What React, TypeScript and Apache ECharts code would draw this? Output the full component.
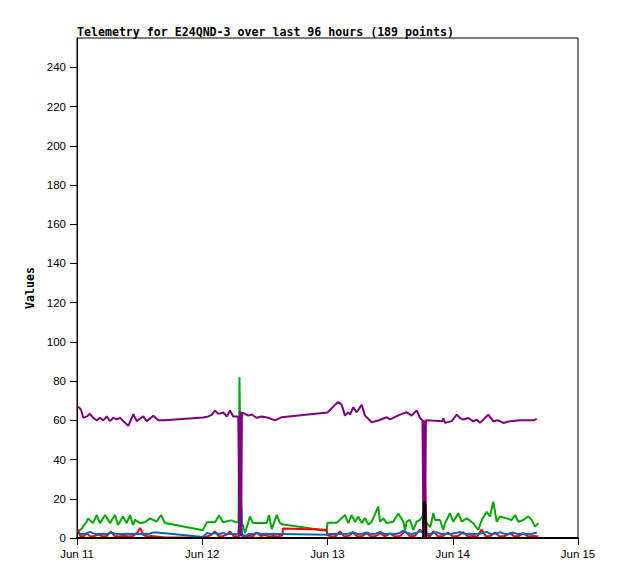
import { useEffect, useRef } from 'react';
import * as echarts from 'echarts';

const TITLE = 'Telemetry for E24QND-3 over last 96 hours (189 points)';
const Y_NAME = 'Values';
// x positions are hours since Jun 11 00:00
const xTickLabels = ['Jun 11', 'Jun 12', 'Jun 13', 'Jun 14', 'Jun 15'];
const yTickValues = [0, 20, 40, 60, 80, 100, 120, 140, 160, 180, 200, 220, 240];

const greenHours = [
  0.2, 0.96, 1.86, 2.11, 3.07, 3.77, 4.41, 5.37, 6.32, 7.28, 7.86, 8.81, 9.52, 10.15, 10.73, 11.11, 12.07, 13.03, 13.99, 15.27, 16.1, 16.86,
  24.14, 24.85, 26.44, 27.21, 27.98, 28.74, 29.61, 30.47, 30.95, 31.14, 31.33, 31.6, 32.19, 33.15, 33.73, 36.35, 36.79, 37.31, 38.27, 38.9, 39.28,
  47.85, 48.0, 49.76, 51.35, 51.99, 52.64, 53.27, 53.9, 54.55, 55.18, 55.82, 56.47, 57.73, 58.06, 58.69, 59.35, 60.61, 61.57, 62.53, 62.85, 63.18,
  63.81, 64.44, 65.09, 65.73, 66.4, 66.9, 67.7, 68.27, 68.6, 69.56, 70.19, 70.52, 71.47, 72.11, 73.06, 73.71, 74.67, 75.94, 76.9, 77.55, 78.51,
  79.14, 79.77, 80.42, 81.06, 82.34, 83.3, 83.93, 84.56, 85.52, 86.48, 87.13, 87.76, 88.39,
];
const greenValues = [
  3.2, 5, 8.3, 10, 7.6, 11.7, 7.6, 11.7, 7.6, 11.7, 6.6, 11, 7.6, 11.7, 6.6, 9.2, 7.6, 8, 10, 8.4, 11.7, 7.6,
  4, 8, 8, 11.5, 8, 8.5, 9, 8, 8, 82, 30, 8, 2.5, 11, 7.6, 7.6, 11.7, 4.5, 11.7, 7.6, 7,
  3.7, 7.8, 7.8, 11.7, 7.6, 11.7, 8.2, 10.9, 7.6, 10.2, 6.8, 8.3, 16, 8.3, 10, 7.6, 8.3, 12.5, 8.3, 4.1, 8.3,
  9.2, 4.1, 8.3, 9.2, 12, 8, 5.5, 12.6, 9.2, 9.2, 4.1, 7.5, 12.6, 8.3, 12.6, 8.3, 10, 7.5, 4.1, 9.2, 13.4,
  11, 18.5, 8.3, 11, 10, 9.2, 11.7, 8.3, 9.2, 11, 9.2, 5.8, 7.6,
];

const redHours = [
  0.2, 0.6, 1.3, 1.9, 2.5, 3.3, 4.1, 4.8, 5.7, 6.5, 7.2, 8.1, 9.0, 9.8, 10.7, 11.5, 12.1, 12.7, 13.5, 14.3, 15.1, 16.1, 16.9,
  24.1, 24.9, 25.7, 26.4, 27.2, 28.0, 28.7, 29.3, 30.0, 30.9, 31.3, 32.2, 33.0, 33.7, 34.4, 35.2, 36.0, 36.8, 37.6, 38.4, 39.0, 39.3, 39.5,
  47.8, 48.0, 48.8, 49.6, 50.4, 51.2, 52.0, 52.9, 53.7, 54.6, 55.5, 56.3, 57.2, 58.1, 59.0, 60.0, 60.9, 61.9, 62.9, 63.8, 64.8, 65.7, 66.3,
  66.7, 67.0, 67.6, 68.3, 69.2, 70.1, 71.1, 72.0, 73.0, 74.0, 74.9, 75.8, 76.7, 77.5, 78.4, 79.2, 80.1, 81.0, 82.0, 83.0, 83.8, 84.7, 85.5,
  86.4, 87.3, 88.4,
];
const redValues = [
  4.3, 1, 0.8, 2.5, 0.8, 1, 1.8, 0.8, 1, 3.4, 1, 0.8, 1.2, 0.8, 1, 2.5, 5.1, 1.5, 0.8, 1, 0.8, 0.5, 0.3,
  0.2, 0.8, 1.5, 3.4, 0.8, 1, 1.8, 3.4, 1, 0.8, 1.5, 0.8, 1.2, 0.8, 2.8, 1, 1.5, 0.8, 1, 0.8, 1.2, 1.2, 4.8,
  4.2, 1.5, 0.8, 1, 3.4, 0.8, 1, 2.8, 0.8, 1, 2.5, 0.8, 1, 2.5, 0.8, 2.2, 0.8, 1, 3.4, 0.8, 1.2, 4.3, 2.5,
  28, 1.5, 0.8, 3.4, 0.8, 1, 2.8, 0.8, 1, 3, 0.8, 1, 0.8, 4.3, 0.8, 1, 2.8, 0.8, 1, 2.5, 0.8, 1, 2.5,
  0.8, 1, 0.8,
];

const blueHours = [
  0.2, 0.9, 1.7, 2.5, 3.3, 4.1, 4.9, 5.7, 6.5, 7.3, 8.1, 8.9, 9.7, 10.5, 11.3, 12.1, 12.9, 13.7, 14.5, 15.3, 16.1, 16.9,
  24.1, 24.9, 25.7, 26.4, 27.2, 28.0, 28.7, 29.5, 30.3, 30.9, 31.4, 31.6, 32.2, 33.0, 33.7, 34.5, 35.3, 36.1, 36.9, 37.7, 38.5, 39.3,
  47.9, 48.0, 49.0, 50.0, 51.0, 52.0, 52.9, 53.8, 54.6, 55.5, 56.4, 57.2, 58.1, 59.0, 60.0, 61.0, 61.8, 62.5, 63.3, 64.2, 65.0, 65.7,
  66.4, 67.2, 68.0, 68.9, 69.8, 70.7, 71.6, 72.5, 73.4, 74.3, 75.2, 76.1, 77.0, 77.8, 78.5, 79.3, 80.2, 81.1, 82.0, 82.8, 83.5, 84.4,
  85.3, 86.2, 87.2, 88.1,
];
const blueValues = [
  2.5, 2, 2.2, 3.1, 2.2, 2, 2.2, 2, 2.8, 2.2, 2, 2, 2.2, 2, 2.2, 2, 2.2, 2, 2.8, 2.8, 2.6, 2.4,
  0.5, 2.5, 2, 2.5, 2, 2.5, 2, 2.2, 2, 2.2, 18.5, 2, 1, 2.2, 2, 2.5, 2, 2.2, 2, 2.2, 2, 2,
  1.7, 2, 2, 2.2, 2, 2.2, 3, 2, 2.2, 2.8, 2, 2.2, 3.1, 2, 2.2, 2, 2.5, 3.7, 2.5, 2, 2.5, 3.5,
  2.5, 2, 2.2, 3, 2, 2.2, 2, 2.5, 3.1, 2, 2.2, 2, 2.2, 2.5, 3.1, 2, 2.2, 3, 2, 2.2, 2.8, 2,
  2.2, 2, 2.2, 2.8,
];

const purpleHours = [
  0.25, 0.77, 1.21, 1.86, 2.49, 3.12, 3.77, 4.41, 5.04, 5.69, 6.32, 6.96, 7.61, 8.24, 8.87, 9.83, 10.79, 11.44, 12.07, 12.7, 13.36, 14.0,
  14.62, 15.58, 16.86,
  24.14, 25.16, 25.81, 26.44, 27.08, 28.03, 28.69, 29.32, 29.95, 30.91, 31.14, 31.3, 31.45, 31.6, 31.87, 32.82, 33.47, 34.43, 35.39, 36.66,
  37.94, 39.23,
  48.0, 49.44, 50.07, 50.72, 51.35, 51.99, 52.31, 52.95, 53.6, 54.55, 55.19, 56.47, 57.74, 59.34, 59.98, 61.89, 63.18, 64.13, 65.09, 65.73,
  66.2, 66.4, 66.55, 66.7, 66.85, 70.0, 70.19, 70.52, 71.8, 72.76, 73.39, 74.02, 74.98, 75.94, 76.59, 77.22, 78.81, 79.77, 80.73, 81.69,
  82.97, 84.89, 87.44, 88.09,
];
const purpleValues = [
  67, 65.4, 61.3, 62, 63.3, 61.3, 60, 61.3, 60, 62, 59.6, 61.3, 60.5, 61.3, 59.6, 57.2, 63.2, 59.6, 60.8, 62, 59.6, 61,
  62.4, 60, 60,
  61.5, 62, 62.8, 65, 63.3, 64, 62, 65, 62, 62, 1, 64.5, 1, 63.7, 63.7, 62.4, 63, 61.3, 62, 61.3,
  60, 61.6,
  64, 67.9, 69.4, 67.9, 62.4, 64.1, 63, 66.7, 64.1, 67.9, 62.4, 59, 59.9, 61.6, 60.5, 62.9, 64.1, 62.4, 65.1, 61.2,
  60, 0, 60, 0, 60, 59.5, 61, 58.7, 59.6, 62.9, 61.2, 60.4, 61.2, 59.5, 60.4, 58.7, 62.9, 59.5, 60, 58.7,
  59.5, 60, 60, 60.8,
];

const blackHours = [0.2, 66.3, 66.45, 66.6, 66.75, 66.9, 88.4];
const blackValues = [0, 0, 18.5, 18.5, 17, 0, 0];

const pairs = (h: number[], v: number[]) => h.map((x, i) => [x, v[i]]);

const MONO = '"DejaVu Sans Mono", monospace';
const SANS = '"Liberation Sans", Arial, sans-serif';

export default function App() {
  const ref = useRef<HTMLDivElement>(null);
  useEffect(() => {
    if (!ref.current) return;
    const chart = echarts.init(ref.current, null, { renderer: 'svg' });
    const line = (name: string, color: string, h: number[], v: number[]) => ({
      name,
      type: 'line',
      data: pairs(h, v),
      showSymbol: false,
      symbol: 'none',
      lineStyle: { color, width: 2 },
      itemStyle: { color },
      emphasis: { disabled: true },
    });
    chart.setOption({
      animation: false,
      backgroundColor: '#ffffff',
      title: {
        text: TITLE,
        left: 72,
        top: 21,
        textStyle: { fontFamily: MONO, fontWeight: 'bold', fontSize: 11.6, color: '#000' },
      },
      grid: {
        left: 77,
        right: 40,
        top: 38,
        bottom: 41,
        show: true,
        borderColor: '#000',
        borderWidth: 1,
        backgroundColor: 'transparent',
      },
      xAxis: {
        type: 'value',
        min: 0,
        max: 96,
        interval: 24,
        axisLine: { show: true, onZero: false, lineStyle: { color: '#000', width: 2 } },
        axisTick: { show: true, length: 7, lineStyle: { color: '#000' } },
        axisLabel: {
          color: '#000',
          fontFamily: SANS,
          fontSize: 11.5,
          margin: 10,
          formatter: (v: number) => xTickLabels[Math.round(v / 24)] ?? '',
        },
        splitLine: { show: false },
      },
      yAxis: {
        type: 'value',
        min: 0,
        max: 255,
        name: Y_NAME,
        nameLocation: 'middle',
        nameRotate: 90,
        nameGap: 38,
        nameTextStyle: { fontFamily: MONO, fontWeight: 'bold', fontSize: 11.6, color: '#000' },
        axisLine: { show: true, onZero: false, lineStyle: { color: '#000', width: 1 } },
        axisTick: { show: true, length: 7, customValues: yTickValues, lineStyle: { color: '#000' } },
        axisLabel: { color: '#000', fontFamily: SANS, fontSize: 11.5, margin: 11, customValues: yTickValues },
        splitLine: { show: false },
      },
      series: [
        line('green', '#00aa00', greenHours, greenValues),
        line('red', '#ff0000', redHours, redValues),
        line('blue', '#0066cc', blueHours, blueValues),
        line('purple', '#800080', purpleHours, purpleValues),
        line('black', '#000000', blackHours, blackValues),
      ],
    });
    return () => chart.dispose();
  }, []);
  return (
    <div
      ref={ref}
      style={{ position: 'fixed', left: 0, top: 0, width: 618, height: 579, background: '#fff' }}
    />
  );
}
